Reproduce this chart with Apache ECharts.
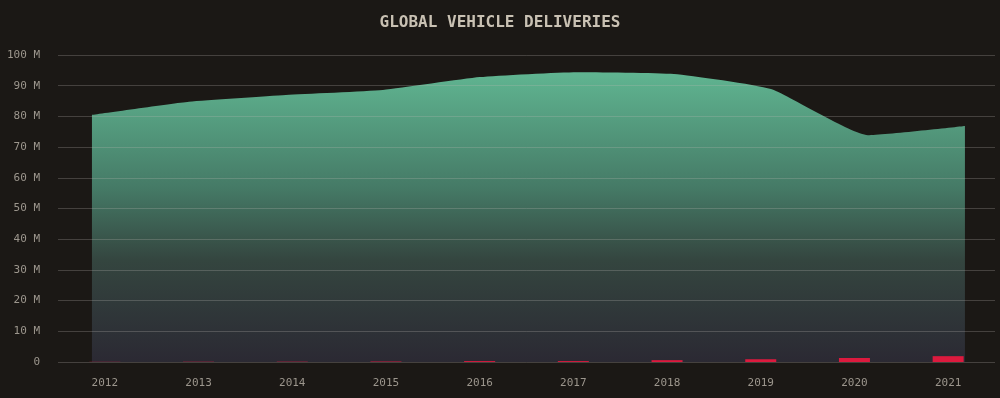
<!DOCTYPE html>
<html>
<head>
<meta charset="utf-8">
<script src="https://cdn.jsdelivr.net/npm/echarts@6/dist/echarts.min.js"></script>
<style>
html,body{margin:0;padding:0;background:#1b1815;}
#chart{width:1000px;height:398px;}
</style>
</head>
<body>
<div id="chart"></div>
<script>
// deliveries in millions
var years=['2012','2013','2014','2015','2016','2017','2018','2019','2020','2021'];
var allVehicles=[80.5,84.8,87.0,88.6,92.8,94.4,93.8,88.9,73.9,76.9];
var evVehicles=[0.05,0.08,0.1,0.15,0.3,0.3,0.6,0.9,1.3,1.9];
var yTicks=[0,10,20,30,40,50,60,70,80,90,100];

var labelFont='"DejaVu Sans Mono", monospace';

window.onload=function(){
    var chart=echarts.init(document.getElementById('chart'));
    var areaData=allVehicles.map(function(v,i){ return [i,v]; });
    chart.setOption({
        backgroundColor:'#1b1815',
        animation:false,
        title:{
            text:'GLOBAL VEHICLE DELIVERIES',
            left:'center',
            top:10,
            textStyle:{
                color:'#c9c1b3',
                fontFamily:labelFont,
                fontWeight:'bold',
                fontSize:16
            }
        },
        grid:{left:58,right:5,top:55,bottom:36},
        xAxis:[
            {
                type:'category',
                data:years,
                boundaryGap:true,
                axisLine:{show:false},
                axisTick:{show:false},
                axisLabel:{color:'#9c968d',fontFamily:labelFont,fontSize:11,margin:16}
            },
            {
                type:'value',
                min:-0.35,
                max:9.31,
                show:false
            }
        ],
        yAxis:{
            type:'value',
            min:yTicks[0],
            max:yTicks[yTicks.length-1],
            interval:10,
            z:3,
            axisLine:{show:false},
            axisTick:{show:false},
            axisLabel:{
                color:'#9c968d',
                fontFamily:labelFont,
                fontSize:11,
                margin:18,
                formatter:function(v){ return v===0 ? '0' : v+' M'; }
            },
            splitLine:{lineStyle:{color:'rgba(190,185,180,0.26)',width:1}}
        },
        series:[
            {
                type:'line',
                xAxisIndex:1,
                data:areaData,
                smooth:0.15,
                symbol:'none',
                lineStyle:{width:0},
                areaStyle:{
                    opacity:1,
                    color:new echarts.graphic.LinearGradient(0,0,0,1,[
                        {offset:0,color:'#60b591'},
                        {offset:0.4,color:'#457a66'},
                        {offset:0.65,color:'#34453f'},
                        {offset:1,color:'#2b2933'}
                    ])
                },
                z:2
            },
            {
                type:'bar',
                xAxisIndex:0,
                data:evVehicles,
                barWidth:31,
                itemStyle:{color:'#dc1a3e'},
                z:4
            }
        ]
    });
};
</script>
</body>
</html>
